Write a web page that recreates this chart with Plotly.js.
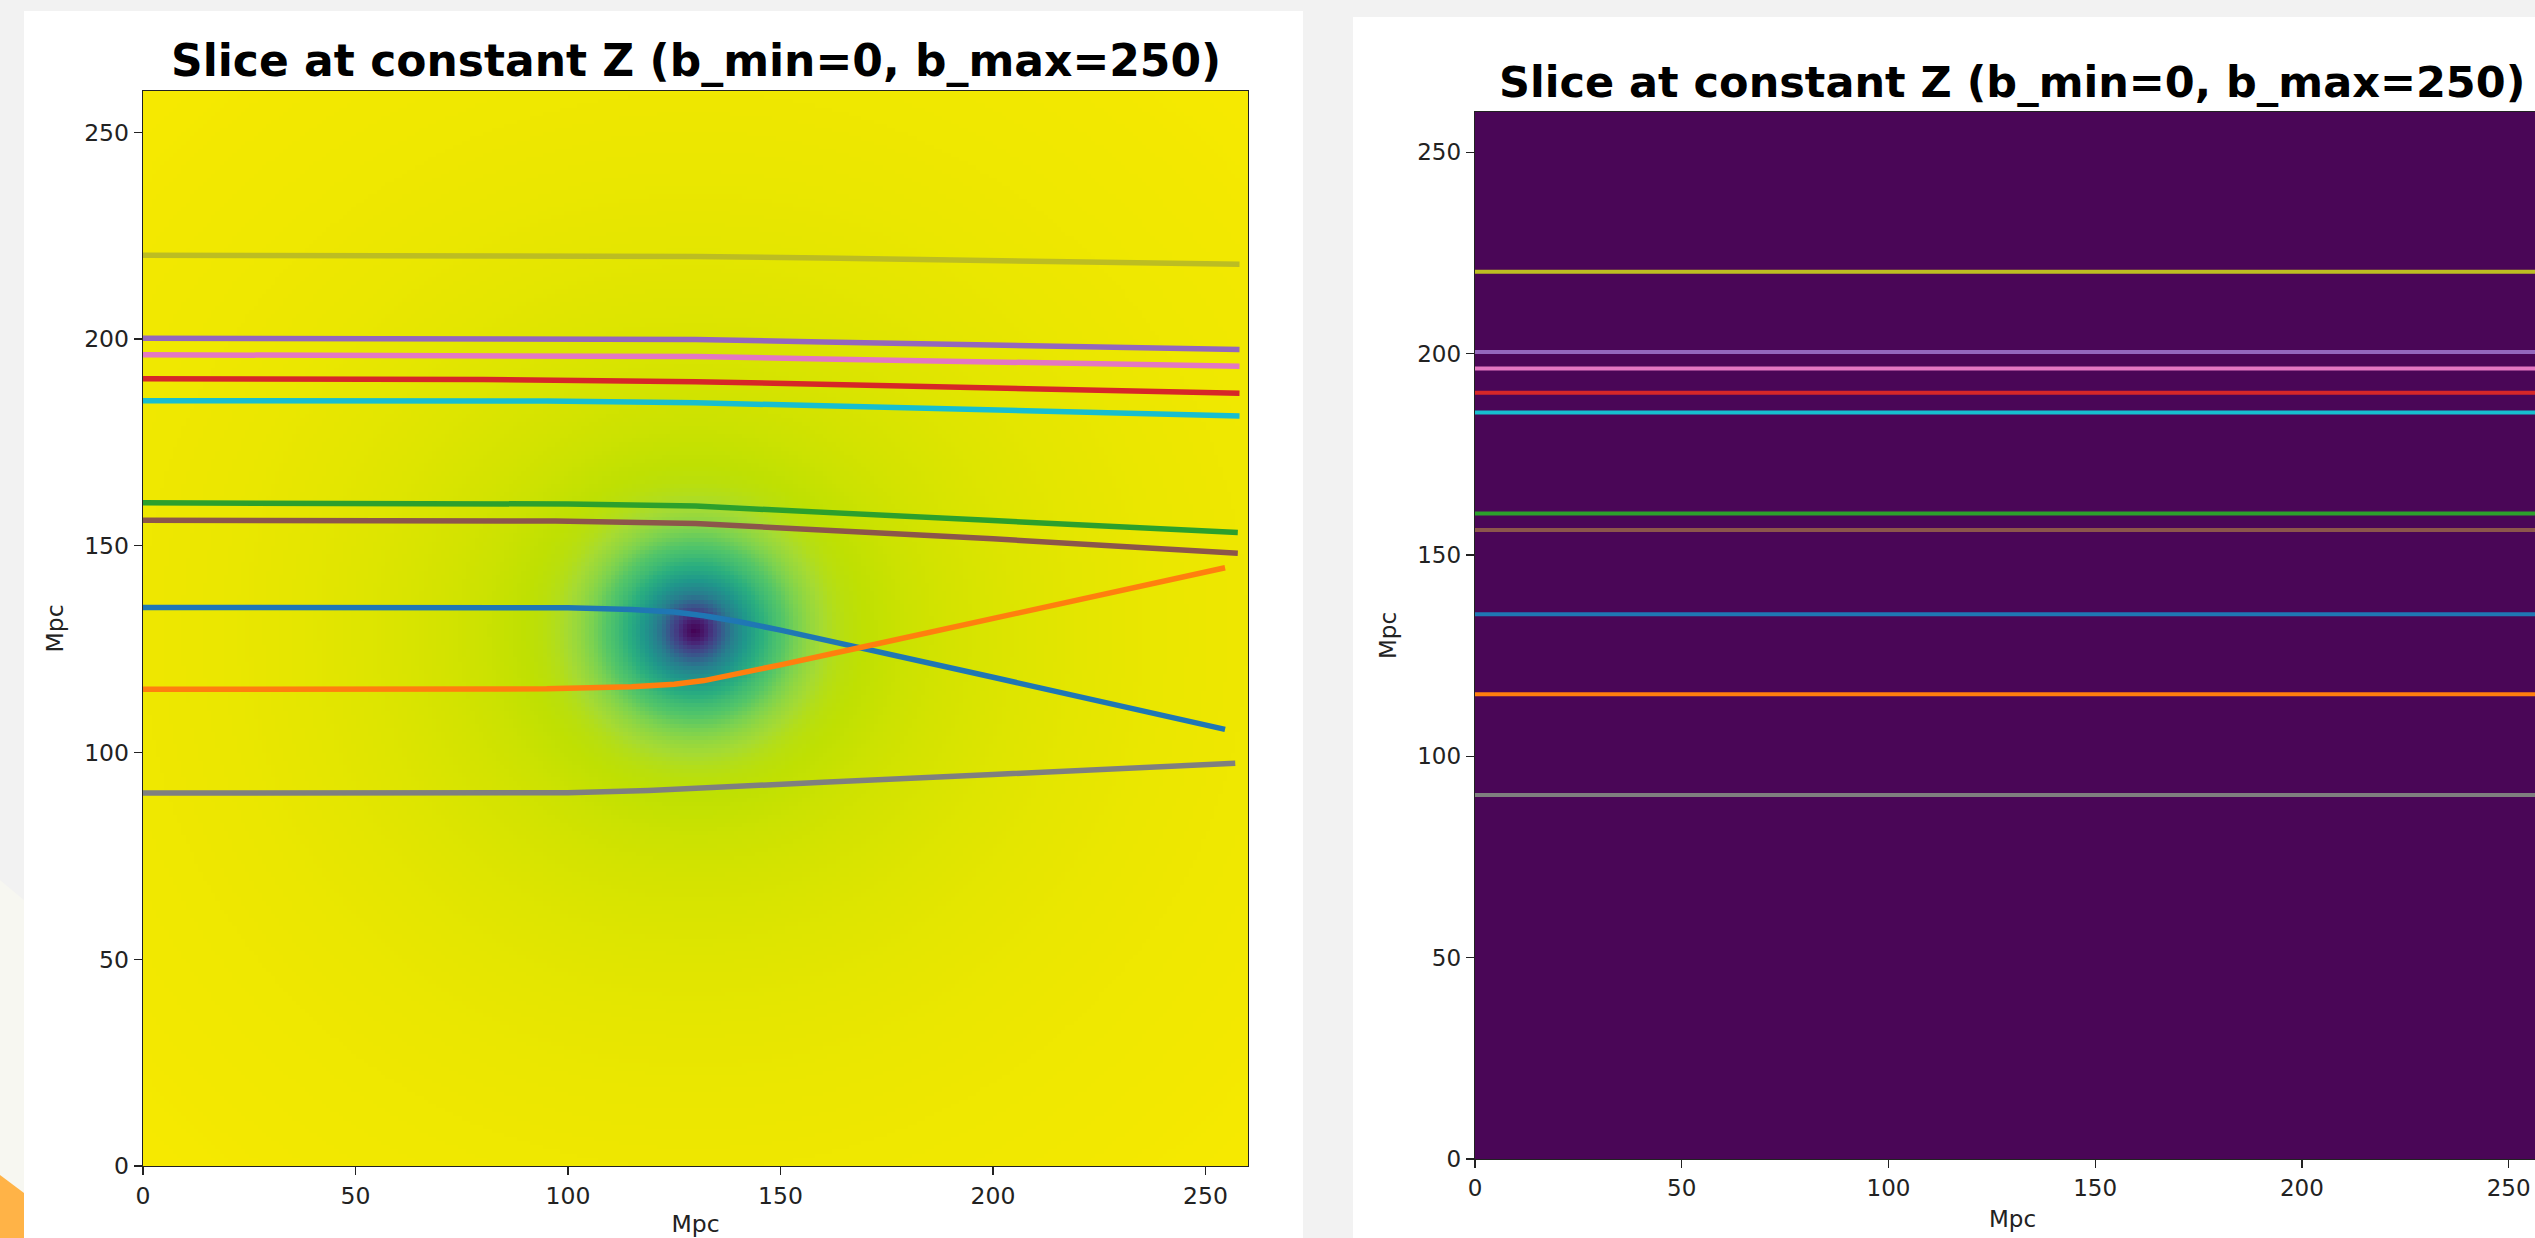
<!DOCTYPE html>
<html>
<head>
<meta charset="utf-8">
<script src="https://cdn.plot.ly/plotly-3.0.1.min.js"></script>
<style>
html,body{margin:0;padding:0;overflow:hidden;background:#f2f2f2;width:2535px;height:1238px}
#chart{width:2560px;height:1238px}
</style>
</head>
<body>
<div id="chart"></div>
<script>
// ---------- data ----------
const TITLE = 'Slice at constant Z (b_min=0, b_max=250)';
const AXIS_LABEL = 'Mpc';
const TICKS = [0, 50, 100, 150, 200, 250];
const GRID_SIZE = 260;            // Mpc, cells of 1 Mpc
const MASS_X = 129.8, MASS_Y = 129.5;

// radial profile of the left-hand field (normalised colour value vs distance from the mass)
const PROFILE_R = [0, 2, 4, 6, 9, 12, 15, 18, 21, 24, 27, 30, 33, 36, 40, 50, 60, 75, 90, 110, 130, 160, 185];
const PROFILE_V = [0.0, 0.1, 0.22, 0.33, 0.47, 0.55, 0.61, 0.66, 0.7, 0.75, 0.79, 0.82, 0.845, 0.86, 0.87, 0.9, 0.92, 0.94, 0.955, 0.97, 0.98, 0.99, 1.0];

// ray names / colours (matplotlib tab10)
const RAY_NAMES  = ['C0','C1','C2','C3','C4','C5','C6','C7','C8','C9'];
const RAY_COLORS = ['#1f77b4','#ff7f0e','#2ca02c','#d62728','#9467bd','#8c564b','#e377c2','#7f7f7f','#bcbd22','#17becf'];

// deflected rays (left panel)
const rayC0x = [0, 100, 115, 125, 132, 140, 150, 168.8, 200, 254.6];
const rayC0y = [135.1, 135.0, 134.6, 134.0, 133.1, 131.7, 129.6, 125.4, 118.2, 105.6];
const rayC1x = [0, 95, 115, 125, 132, 140, 150, 168.8, 200, 254.6];
const rayC1y = [115.3, 115.4, 115.9, 116.5, 117.4, 119.0, 121.2, 125.4, 132.4, 144.7];
const rayC2x = [0, 45, 100, 130, 160, 200, 257.6];
const rayC2y = [160.4, 160.3, 160.1, 159.6, 158.2, 156.1, 153.2];
const rayC3x = [0, 80, 130, 160, 200, 258];
const rayC3y = [190.4, 190.2, 189.7, 189.0, 188.2, 186.9];
const rayC4x = [0, 100, 130, 160, 200, 258];
const rayC4y = [200.2, 200.1, 199.9, 199.3, 198.6, 197.5];
const rayC5x = [0, 97, 130, 160, 200, 257.6];
const rayC5y = [156.2, 156.0, 155.4, 153.9, 151.7, 148.2];
const rayC6x = [0, 84, 130, 160, 200, 258];
const rayC6y = [196.2, 196.1, 195.8, 195.2, 194.5, 193.4];
const rayC7x = [0, 100, 119, 128.5, 160, 200, 257];
const rayC7y = [90.2, 90.3, 90.8, 91.3, 92.8, 94.7, 97.4];
const rayC8x = [0, 107, 130, 160, 200, 258];
const rayC8y = [220.3, 220.2, 220.0, 219.6, 219.0, 218.1];
const rayC9x = [0, 95, 130, 160, 200, 258];
const rayC9y = [185.1, 185.0, 184.6, 183.8, 182.9, 181.4];

// undeflected rays (right panel)
const STRAIGHT_X = [0, 260];
const STRAIGHT_Y = [135.3, 115.4, 160.3, 190.3, 200.4, 156.2, 196.3, 90.4, 220.3, 185.4];

// ---------- build tables ----------
function profileAt(r) {
  for (let k = 1; k < PROFILE_R.length; k++) {
    if (r <= PROFILE_R[k]) {
      const t = (r - PROFILE_R[k-1]) / (PROFILE_R[k] - PROFILE_R[k-1]);
      return PROFILE_V[k-1] + t * (PROFILE_V[k] - PROFILE_V[k-1]);
    }
  }
  return PROFILE_V[PROFILE_V.length - 1];
}
const cells = [];
for (let i = 0; i < GRID_SIZE; i++) cells.push(i + 0.5);
const field = cells.map(yc => cells.map(xc => profileAt(Math.hypot(xc - MASS_X, yc - MASS_Y))));

const FIELD_SCALE = [
  [0,'#440154'],[0.08,'#471365'],[0.16,'#482576'],[0.24,'#433d84'],[0.32,'#3b528b'],
  [0.4,'#2f6c8e'],[0.48,'#26828e'],[0.55,'#1f978b'],[0.62,'#2aae7f'],[0.69,'#50c46a'],
  [0.76,'#7fd34e'],[0.82,'#a6db32'],[0.87,'#bfe002'],[0.92,'#d4e300'],[0.96,'#e6e600'],[1,'#f7e900']
];
const EMPTY_SCALE = [[0,'#4a0657'],[1,'#4a0657']];

const W = 2560, H = 1238;
const fx = p => p / W;
const fy = p => 1 - p / H;

const rays = [
  [rayC0x, rayC0y],[rayC1x, rayC1y],[rayC2x, rayC2y],[rayC3x, rayC3y],[rayC4x, rayC4y],
  [rayC5x, rayC5y],[rayC6x, rayC6y],[rayC7x, rayC7y],[rayC8x, rayC8y],[rayC9x, rayC9y]
];

const traces = [];
traces.push({type:'heatmap', x: cells, y: cells, z: field, colorscale: FIELD_SCALE,
  zmin: 0, zmax: 1, showscale: false, zsmooth: false, xaxis:'x', yaxis:'y', hoverinfo:'skip'});
rays.forEach((r, k) => traces.push({type:'scatter', mode:'lines', x: r[0], y: r[1], name: RAY_NAMES[k],
  line:{color: RAY_COLORS[k], width: 5.5}, xaxis:'x', yaxis:'y', hoverinfo:'skip'}));

traces.push({type:'heatmap', x: [0, GRID_SIZE], y: [0, GRID_SIZE], z: [[0]], colorscale: EMPTY_SCALE,
  zmin: 0, zmax: 1, showscale: false, xaxis:'x2', yaxis:'y2', hoverinfo:'skip'});
STRAIGHT_Y.forEach((yv, k) => traces.push({type:'scatter', mode:'lines', x: STRAIGHT_X, y: [yv, yv], name: RAY_NAMES[k],
  line:{color: RAY_COLORS[k], width: 4}, xaxis:'x2', yaxis:'y2', hoverinfo:'skip'}));

const FONT = 'DejaVu Sans';
function axis(domain, anchor, size, standoff) {
  return {domain: domain, anchor: anchor, range: [0, GRID_SIZE], tickvals: TICKS, ticktext: TICKS.map(String),
    ticks: 'outside', ticklen: 8, tickwidth: 1.3, tickcolor: '#222', showline: true, linecolor: '#222',
    linewidth: 1.3, mirror: true, showgrid: false, zeroline: false,
    tickfont: {family: FONT, size: size, color: '#222'},
    title: {text: AXIS_LABEL, font: {family: FONT, size: size, color: '#222'}, standoff: standoff}};
}

const layout = {
  width: W, height: H, margin: {l:0, r:0, t:0, b:0},
  paper_bgcolor: '#f2f2f2', plot_bgcolor: 'rgba(0,0,0,0)', showlegend: false,
  xaxis:  axis([fx(143), fx(1248)], 'y', 23.5, 10),
  yaxis:  axis([fy(1166), fy(91)], 'x', 23.5, 14),
  xaxis2: axis([fx(1475), fx(2550)], 'y2', 23, 11),
  yaxis2: axis([fy(1159), fy(112)], 'x2', 23, 14),
  shapes: [
    {type:'path', xref:'paper', yref:'paper', layer:'below', line:{width:0}, fillcolor:'#f7f7f1',
     path:`M 0 ${fy(880)} L ${fx(24)} ${fy(900)} L ${fx(24)} ${fy(1238)} L 0 ${fy(1238)} Z`},
    {type:'path', xref:'paper', yref:'paper', layer:'below', line:{width:0}, fillcolor:'#ffb347',
     path:`M 0 ${fy(1175)} L ${fx(24)} ${fy(1193)} L ${fx(24)} ${fy(1238)} L 0 ${fy(1238)} Z`},
    {type:'rect', xref:'paper', yref:'paper', layer:'below', line:{width:0}, fillcolor:'#ffffff',
     x0: fx(24), x1: fx(1303), y0: 0, y1: fy(11)},
    {type:'rect', xref:'paper', yref:'paper', layer:'below', line:{width:0}, fillcolor:'#ffffff',
     x0: fx(1353), x1: 1, y0: 0, y1: fy(17)}
  ],
  annotations: [
    {text: TITLE, xref:'paper', yref:'paper', x: fx(695.5), y: fy(61), xanchor:'center', yanchor:'middle',
     showarrow:false, font:{family: FONT, size: 44, color:'#000', weight: 'bold'}},
    {text: TITLE, xref:'paper', yref:'paper', x: fx(2012), y: fy(82), xanchor:'center', yanchor:'middle',
     showarrow:false, font:{family: FONT, size: 43, color:'#000', weight: 'bold'}}
  ]
};

Plotly.newPlot('chart', traces, layout, {staticPlot: true, displayModeBar: false});
</script>
</body>
</html>
